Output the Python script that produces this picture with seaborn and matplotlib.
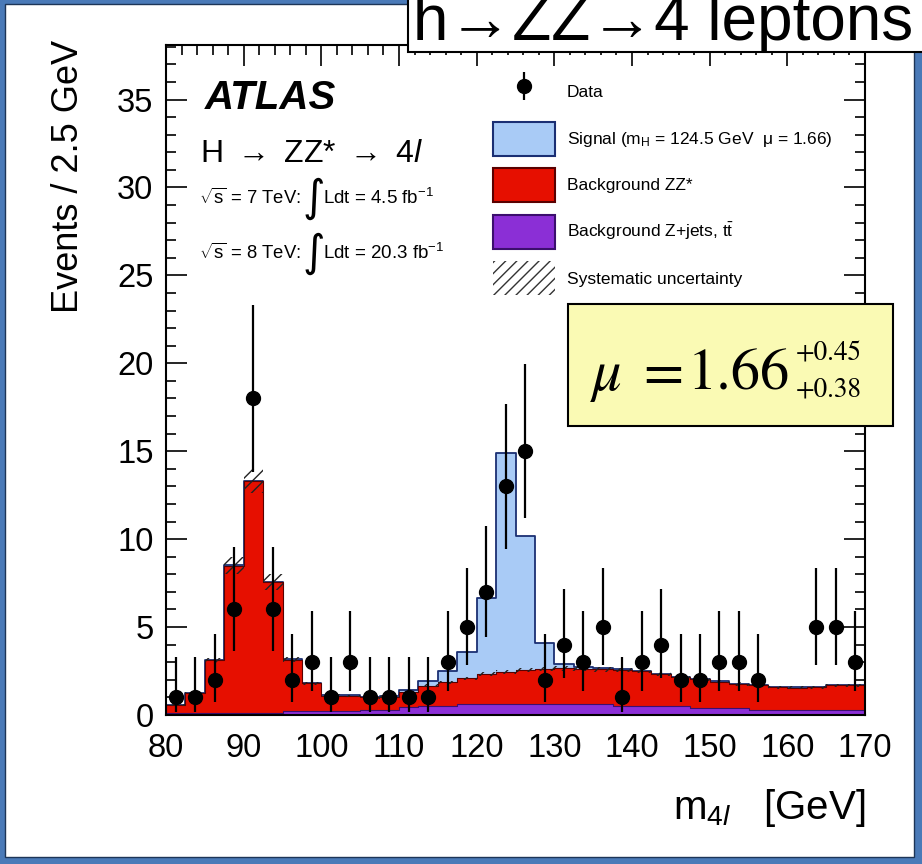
import numpy as np
import pandas as pd
import matplotlib
matplotlib.use("Agg")
import matplotlib.pyplot as plt
import seaborn as sns
from matplotlib.patches import Patch, Rectangle
from matplotlib.ticker import MultipleLocator
from matplotlib.container import ErrorbarContainer
from matplotlib.legend_handler import HandlerErrorbar

# ---------------- data ----------------
m_low, m_high, bin_width = 80.0, 170.0, 2.5

data_counts = [1, 1, 2, 6, 18, 6, 2, 3, 1, 3, 1, 1, 1, 1, 3, 5, 7, 13, 15, 2,
               4, 3, 5, 1, 3, 4, 2, 2, 3, 3, 2, 0, 0, 5, 5, 3]

bkg_zjets_tt = [0.1, 0.1, 0.1, 0.1, 0.1, 0.1, 0.2, 0.2, 0.2, 0.2, 0.3, 0.3,
                0.45, 0.5, 0.5, 0.6, 0.6, 0.6, 0.6, 0.6, 0.6, 0.6, 0.6,
                0.5, 0.5, 0.5, 0.5, 0.42, 0.42, 0.42, 0.3, 0.3, 0.3, 0.3, 0.3, 0.3]

bkg_zz = [0.45, 1.15, 3.0, 8.4, 13.2, 7.45, 2.95, 1.6, 0.9, 0.87, 0.7, 0.75,
          0.87, 1.17, 1.36, 1.48, 1.73, 1.86, 1.97, 2.01, 2.05, 2.02, 2.0,
          2.07, 2.0, 1.83, 1.64, 1.63, 1.48, 1.34, 1.4, 1.27, 1.25, 1.27, 1.4, 1.4]

signal = [0.02, 0.02, 0.02, 0.02, 0.02, 0.02, 0.02, 0.02, 0.05, 0.05, 0.05, 0.05,
          0.13, 0.28, 0.66, 1.52, 4.32, 12.44, 7.63, 1.48, 0.25, 0.1, 0.05,
          0.03, 0.02, 0.02, 0.02, 0.02, 0.02, 0.02, 0.02, 0.02, 0.02, 0.02, 0.02, 0.02]

syst_unc = [0.05, 0.08, 0.15, 0.5, 0.7, 0.45, 0.15, 0.1, 0.07, 0.07, 0.07, 0.07,
            0.08, 0.1, 0.1, 0.1, 0.12, 0.12, 0.13, 0.13, 0.13, 0.13, 0.13, 0.13,
            0.12, 0.12, 0.1, 0.1, 0.1, 0.09, 0.09, 0.08, 0.08, 0.08, 0.09, 0.09]

labels = ["Data",
          "Signal (m$_{\\mathregular{H}}$ = 124.5 GeV  \u03bc = 1.66)",
          "Background ZZ*",
          "Background Z+jets, t$\\bar{\\mathregular{t}}$",
          "Systematic uncertainty"]

lumi_lines = [("$\\sqrt{\\mathregular{s}}$ = 7 TeV:", "Ldt = 4.5 fb$^{-1}$"),
              ("$\\sqrt{\\mathregular{s}}$ = 8 TeV:", "Ldt = 20.3 fb$^{-1}$")]

# ---------------- style ----------------
sns.set_style("ticks")
plt.rcParams["font.family"] = ["Liberation Sans", "DejaVu Sans"]
plt.rcParams["mathtext.fontset"] = "custom"
plt.rcParams["mathtext.rm"] = "Liberation Sans"
plt.rcParams["mathtext.it"] = "Liberation Sans:italic"
plt.rcParams["mathtext.bf"] = "Liberation Sans:bold"
plt.rcParams["mathtext.sf"] = "Liberation Sans"
plt.rcParams["hatch.linewidth"] = 1.0
for k in ["text.color", "axes.labelcolor", "xtick.color", "ytick.color"]:
    plt.rcParams[k] = "black"

col_sig = "#a9cbf6"
col_sig_edge = "#1b2f73"
col_zz = "#e60f00"
col_zz_edge = "#5a0000"
col_zj = "#8b2fd6"
col_zj_edge = "#3c0f6e"

edges = np.arange(m_low, m_high + bin_width / 2, bin_width)
edge_list = [float(e) for e in edges]
centers = edges[:-1] + bin_width / 2
n = np.array(data_counts, dtype=float)
zj = np.array(bkg_zjets_tt)
bkg_top = zj + np.array(bkg_zz)
tot_top = bkg_top + np.array(signal)
syst = np.array(syst_unc)

df = pd.DataFrame({"m4l": centers, "total": tot_top, "bkg": bkg_top, "zjets": zj})

W, H = 922, 864


def fpos(x_px, y_px):
    return x_px / W, 1 - y_px / H


fig = plt.figure(figsize=(W / 100, H / 100), dpi=100)
fig.patch.set_facecolor("#4a7ab8")
fig.add_artist(Rectangle((5 / W, 1 - 857 / H), (914 - 5) / W, (857 - 4) / H,
                         transform=fig.transFigure, facecolor="white",
                         edgecolor="#1d3557", lw=1, zorder=-1))

ax = fig.add_axes([166 / W, 1 - 715 / H, (865 - 166) / W, (715 - 45) / H])

# stacked histograms (overlay of cumulative sums)
sns.histplot(data=df, x="m4l", weights="total", bins=edge_list, element="step",
             fill=True, color=col_sig, edgecolor=col_sig_edge, linewidth=1.3,
             alpha=1, ax=ax)
sns.histplot(data=df, x="m4l", weights="bkg", bins=edge_list, element="step",
             fill=True, color=col_zz, edgecolor=col_zz_edge, linewidth=0.8,
             alpha=1, ax=ax)
sns.histplot(data=df, x="m4l", weights="zjets", bins=edge_list, element="step",
             fill=True, color=col_zj, edgecolor=col_zj_edge, linewidth=0.8,
             alpha=1, ax=ax)

# systematic band
ax.bar(edges[:-1], 2 * syst, bottom=bkg_top - syst, width=bin_width, align="edge",
       fill=False, hatch="///", edgecolor="#222222", linewidth=0, zorder=3)

# data with Poisson (Garwood, Wilson-Hilferty) intervals
def chi2_q(k, z):
    return k * (1 - 2 / (9 * k) + z * np.sqrt(2 / (9 * k))) ** 3

mask = n > 0
nn = n[mask]
lo = nn - 0.5 * chi2_q(2 * nn, -1.0)
hi = 0.5 * chi2_q(2 * nn + 2, 1.0) - nn
eb = ax.errorbar(centers[mask], nn, yerr=[lo, hi], fmt="o", color="black",
                 ms=10, elinewidth=1.6, capsize=0, zorder=5)

# axes
ax.set_xlim(m_low, m_high)
ax.set_ylim(0, 38.1)
ax.xaxis.set_major_locator(MultipleLocator(10))
ax.xaxis.set_minor_locator(MultipleLocator(2))
ax.yaxis.set_major_locator(MultipleLocator(5))
ax.yaxis.set_minor_locator(MultipleLocator(1))
ax.tick_params(which="both", direction="in", top=True, right=True,
               width=1.2, color="black", labelsize=23.5, labelcolor="black")
ax.tick_params(which="major", length=15)
ax.tick_params(which="minor", length=7.5)
ax.tick_params(axis="x", pad=13)
ax.tick_params(axis="y", pad=9)
for sp in ax.spines.values():
    sp.set_linewidth(1.5)
    sp.set_color("black")

ax.set_ylabel("Events / 2.5 GeV", fontsize=26, ha="right")
ax.yaxis.set_label_coords(-0.114, 1.0075)
ax.set_xlabel("m$_{4\\mathit{l}}$   [GeV]", fontsize=29, ha="right")
ax.xaxis.set_label_coords(1.0, -0.108)

# annotations
ax.text(0.0558, 0.9045, "ATLAS", transform=ax.transAxes, fontsize=29,
        fontweight="bold", fontstyle="italic", va="baseline", ha="left")
ax.text(0.0486, 0.825, "H $\\rightarrow$ ZZ* $\\rightarrow$ 4$\\mathit{l}$",
        transform=ax.transAxes, fontsize=23, va="baseline", ha="left")
for (left, right), yc in zip(lumi_lines, [198, 253]):
    fig.text(*fpos(199, yc), left, fontsize=13.3, va="center", ha="left")
    fig.text(*fpos(313, yc + 1), "$\\int$", math_fontfamily="dejavusans",
             fontsize=22, va="center", ha="center")
    fig.text(*fpos(323, yc), right, fontsize=13.5, va="center", ha="left")

handles = [eb,
           Patch(facecolor=col_sig, edgecolor=col_sig_edge, linewidth=1.5),
           Patch(facecolor=col_zz, edgecolor=col_zz_edge, linewidth=1.5),
           Patch(facecolor=col_zj, edgecolor=col_zj_edge, linewidth=1.5),
           Patch(facecolor="white", edgecolor="#333333", hatch="///", linewidth=0)]
ax.legend(handles, labels, loc="upper left", bbox_to_anchor=(0.468, 0.955),
          frameon=False, fontsize=12.5, handlelength=3.57, handleheight=2.64,
          labelspacing=0.72, handletextpad=0.69, borderpad=0, borderaxespad=0,
          handler_map={ErrorbarContainer: HandlerErrorbar(xerr_size=0.8)})

# title box (cut at top of slide)
fig.add_artist(Rectangle((408 / W, 1 - 52 / H), 0.6, 0.2, transform=fig.transFigure,
                         facecolor="white", edgecolor="black", lw=1.5, zorder=5))
fig.text(*fpos(413, 40), "h\u2192ZZ\u21924 leptons", fontsize=46,
         va="baseline", ha="left", zorder=6, color="black",
         family=["Liberation Sans", "DejaVu Sans"])

# mu box
fig.add_artist(Rectangle((568 / W, 1 - 426 / H), (893 - 568) / W, (426 - 304) / H,
                         transform=fig.transFigure, facecolor="#fafab4",
                         edgecolor="black", lw=1.5, zorder=5))
fig.text(*fpos(590, 390), "$\\mu$", math_fontfamily="stix", fontsize=42,
         ha="left", va="baseline", zorder=6)
fig.text(*fpos(643, 390), "=", family="STIXGeneral", fontsize=42,
         ha="left", va="baseline", zorder=6)
fig.text(*fpos(688, 390), "1.66", family="STIXGeneral", fontsize=42,
         ha="left", va="baseline", zorder=6)
fig.text(*fpos(796, 360), "+0.45", family="STIXGeneral", fontsize=19.5,
         ha="left", va="baseline", zorder=6)
fig.text(*fpos(796, 397), "+0.38", family="STIXGeneral", fontsize=19.5,
         ha="left", va="baseline", zorder=6)

fig.savefig("out.png", dpi=100)
